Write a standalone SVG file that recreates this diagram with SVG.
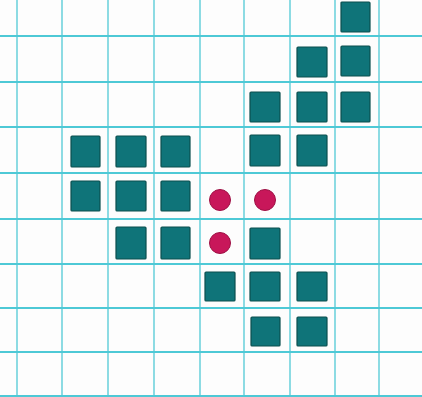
<svg xmlns="http://www.w3.org/2000/svg" width="422" height="397" viewBox="0 0 422 397">
<style>
.h{stroke:#4ec9d6;stroke-width:2.2;fill:none}
.v{stroke:#79d5df;stroke-width:1.7;fill:none}
.sq{fill:#0f7479;stroke:#0b4f4f;stroke-width:1.2}
.dot{fill:#c8175a;stroke:#9e1044;stroke-width:1}
</style>
<rect width="422" height="397" fill="#fdfdfd"/>
<g id="grid">
<path class="v" d="M17 0V397M62 0V397M108 0V397M154 0V397M200 0V397M244 0V397M290 0V397M335 0V397M379 0V397"/>
<path class="h" d="M0 36H422M0 82H422M0 127H422M0 173H422M0 219H422M0 264H422M0 308H422M0 352H422M0 396H422"/>
</g>
<g id="squares">
<rect class="sq" x="341" y="2" width="29" height="30" rx="1"/>
<rect class="sq" x="297" y="47" width="30" height="30" rx="1"/>
<rect class="sq" x="341" y="46" width="29" height="30" rx="1"/>
<rect class="sq" x="250" y="92" width="30" height="30" rx="1"/>
<rect class="sq" x="297" y="92" width="30" height="30" rx="1"/>
<rect class="sq" x="341" y="92" width="29" height="30" rx="1"/>
<rect class="sq" x="71" y="136" width="29" height="31" rx="1"/>
<rect class="sq" x="116" y="136" width="30" height="31" rx="1"/>
<rect class="sq" x="161" y="136" width="29" height="31" rx="1"/>
<rect class="sq" x="250" y="135" width="30" height="31" rx="1"/>
<rect class="sq" x="297" y="135" width="30" height="31" rx="1"/>
<rect class="sq" x="71" y="181" width="29" height="30" rx="1"/>
<rect class="sq" x="116" y="181" width="30" height="30" rx="1"/>
<rect class="sq" x="161" y="181" width="29" height="30" rx="1"/>
<rect class="sq" x="116" y="227" width="30" height="32" rx="1"/>
<rect class="sq" x="161" y="227" width="29" height="32" rx="1"/>
<rect class="sq" x="250" y="228" width="30" height="31" rx="1"/>
<rect class="sq" x="205" y="272" width="30" height="29" rx="1"/>
<rect class="sq" x="250" y="272" width="30" height="29" rx="1"/>
<rect class="sq" x="297" y="272" width="30" height="29" rx="1"/>
<rect class="sq" x="251" y="317" width="29" height="29" rx="1"/>
<rect class="sq" x="297" y="317" width="30" height="29" rx="1"/>
</g>
<g id="dots">
<circle class="dot" cx="220" cy="200" r="10.5"/>
<circle class="dot" cx="265" cy="200" r="10.5"/>
<circle class="dot" cx="220" cy="243" r="10.5"/>
</g>
</svg>
